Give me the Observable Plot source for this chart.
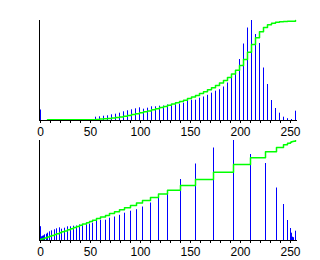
<!DOCTYPE html>
<html><head><meta charset="utf-8">
<script src="https://cdn.jsdelivr.net/npm/d3@7"></script>
<script src="https://cdn.jsdelivr.net/npm/@observablehq/plot@0.6"></script>
<style>
body{margin:0;background:#fff;}
#c{width:320px;height:260px;overflow:hidden;}
svg{display:block;}
</style>
</head><body><div id="c"></div>
<script>
// Original histogram (grey levels and bar heights, % of tallest bar)
const topLevels = [0,55,59,63,67,71,75,79,83,87,91,95,99,103,107,111,115,119,123,127,131,135,139,143,147,151,155,159,163,167,171,175,179,183,187,191,195,199,203,207,211,215,219,223,227,231,235,239,243,247,251,255];
const topCounts = [10.5,3.3,3.7,4.3,4.7,5.7,6.3,7.3,8.7,9.7,10.7,11.7,12.7,11.3,12.3,13.7,13.7,14.3,14.5,15.5,15.7,15.7,16.3,17.3,20.3,20.3,20.3,22.3,23.5,25.2,27.3,29.3,30.8,33.5,37.5,42,48.5,61,76.5,92.5,100,86,77,52.5,36,20,12,7.3,3.3,1.8,1,9.3];
// Cumulative curve of the original histogram
const topCdfLevels = [7,55,59,63,67,71,75,79,83,87,91,95,99,103,107,111,115,119,123,127,131,135,139,143,147,151,155,159,163,167,171,175,179,183,187,191,195,199,203,207,211,215,219,223,227,231,235,239,243,247,251,255];
const topCdf = [0.8,1.1,1.4,1.7,2.1,2.5,3.0,3.6,4.3,5.0,5.9,6.8,7.8,8.7,9.6,10.7,11.8,12.9,14.0,15.2,16.5,17.7,19.0,20.3,21.9,23.5,25.1,26.9,28.7,30.7,32.8,35.1,37.5,40.1,43.1,46.4,50.2,54.9,60.9,68.2,76.0,82.8,88.8,92.9,95.7,97.3,98.2,98.8,99.1,99.2,99.3,100];
// Equalized histogram
const botLevels = [0,1,2,3,4,6,7,9,11,14,16,19,21,24,27,30,33,36,39,42,46,49,52,56,60,65,69,74,79,84,90,96,102,110,118,127,140,155,173,193,210,225,236,243,247,250,251,252,253,255];
const botCounts = [13.8,3.7,4.3,4.7,5.7,6.3,7.3,8.7,9.7,10.7,11.7,12.7,11.3,12.3,13.7,13.7,14.3,14.5,15.5,15.7,15.7,16.3,17.3,20.3,20.3,20.3,22.3,23.5,25.2,27.3,29.3,30.8,33.5,37.5,42,48.5,61,76.5,92.5,100,86,77,52.5,36,20,12,7.3,3.3,2.8,9.3];
const botCdf = [1.1,1.4,1.7,2.1,2.5,3.0,3.6,4.3,5.0,5.9,6.8,7.8,8.7,9.6,10.7,11.8,12.9,14.0,15.2,16.5,17.7,19.0,20.3,21.9,23.5,25.1,26.9,28.7,30.7,32.8,35.1,37.5,40.1,43.1,46.4,50.2,54.9,60.9,68.2,76.0,82.8,88.8,92.9,95.7,97.3,98.2,98.8,99.1,99.3,100];
// Axis ticks
const minorTicks = [0,10,20,30,40,50,60,70,80,90,100,110,120,130,140,150,160,170,180,190,200,210,220,230,240,250];
const labelTicks = [0,50,100,150,200,250];

function panel(levels, counts, cdfLevels, cdf, height, marginTop) {
  const bars = levels.map((v, i) => ({v, n: counts[i]}));
  const curve = cdfLevels.map((v, i) => ({v, c: cdf[i]}));
  return Plot.plot({
    width: 320, height, marginLeft: 40, marginRight: 24, marginTop, marginBottom: 20,
    x: {type: "linear", domain: [0, 256], label: null},
    y: {domain: [0, 100], label: null, axis: null},
    style: {fontFamily: "'Liberation Sans', Arial, sans-serif", fontSize: "12px", background: "white", color: "black"},
    marks: [
      Plot.ruleX(bars, {x: "v", y1: 0, y2: "n", stroke: "#0000ff", strokeWidth: 1}),
      Plot.line(curve, {x: "v", y: "c", curve: "step-after", stroke: "#00ff00", strokeWidth: 1.5}),
      Plot.ruleX([0], {y1: 0, y2: 100, dx: -1, stroke: "black"}),
      Plot.ruleY([0], {x1: -1, x2: 257, stroke: "black"}),
      Plot.axisX({ticks: minorTicks, tickSize: 3, tickFormat: () => "", label: null, stroke: "black"}),
      Plot.axisX({ticks: labelTicks, tickSize: 0, tickPadding: 7, tickFormat: d => String(d), label: null, fill: "black"})
    ]
  });
}

const c = document.getElementById("c");
c.appendChild(panel(topLevels, topCounts, topCdfLevels, topCdf, 140, 20));
c.appendChild(panel(botLevels, botCounts, botLevels, botCdf, 120, 0));
</script>
</body></html>
